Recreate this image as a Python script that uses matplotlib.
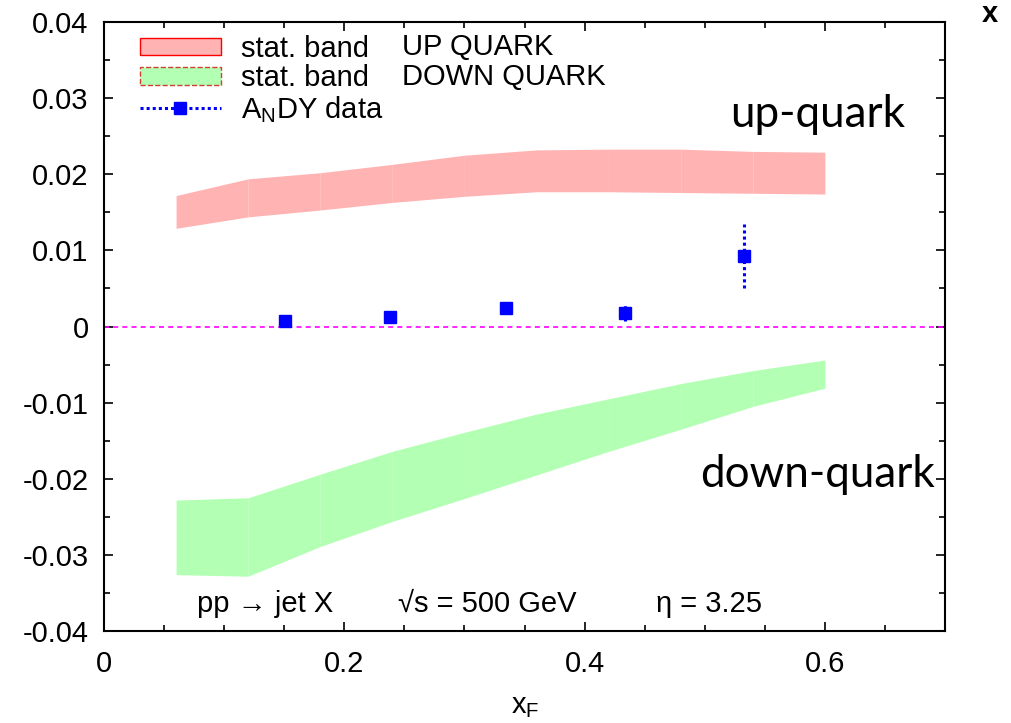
import matplotlib
matplotlib.use("Agg")
import matplotlib.pyplot as plt
from matplotlib.patches import Patch
from matplotlib.lines import Line2D
from matplotlib.ticker import MultipleLocator, FixedLocator, FuncFormatter

plt.rcParams['font.family'] = ['Liberation Sans', 'DejaVu Sans']
plt.rcParams['mathtext.default'] = 'regular'

# Model bands (x_F grid, lower/upper edge of the statistical band)
xf_grid = [0.06, 0.12, 0.18, 0.24, 0.30, 0.36, 0.42, 0.48, 0.54, 0.60]
up_low = [0.0129, 0.0144, 0.0153, 0.0163, 0.0171, 0.0177, 0.0177, 0.0176, 0.0175, 0.0174]
up_high = [0.0172, 0.0194, 0.0202, 0.0213, 0.0225, 0.0232, 0.0233, 0.0233, 0.0230, 0.0229]
down_low = [-0.0326, -0.0328, -0.0289, -0.0256, -0.0226, -0.0195, -0.0164, -0.0135, -0.0105, -0.0081]
down_high = [-0.0228, -0.0225, -0.0194, -0.0164, -0.0139, -0.0115, -0.0095, -0.0075, -0.0058, -0.0044]

# A_N DY measurements
data_x = [0.151, 0.238, 0.335, 0.434, 0.533]
data_y = [0.0007, 0.0012, 0.0024, 0.0018, 0.0092]
data_err = [0.0003, 0.0003, 0.0003, 0.0011, 0.0042]

x_ticks = [0, 0.2, 0.4, 0.6]
y_ticks = [0.04, 0.03, 0.02, 0.01, 0, -0.01, -0.02, -0.03, -0.04]

pink = '#ffb3b3'
green = '#b3ffb3'
FS = 21

fig = plt.figure(figsize=(10.12, 7.23), dpi=100)
ax = fig.add_axes([104 / 1012, 1 - 631 / 723, 841 / 1012, 609 / 723])

# bands drawn segment by segment
for i in range(len(xf_grid) - 1):
    seg = slice(i, i + 2)
    ax.fill_between(xf_grid[seg], up_low[seg], up_high[seg], color=pink, lw=0, zorder=1)
    ax.fill_between(xf_grid[seg], down_low[seg], down_high[seg], color=green, lw=0, zorder=1)

ax.axhline(0, color='#ff00ff', lw=1.2, ls=(0, (3, 2.5)), zorder=2)

eb = ax.errorbar(data_x, data_y, yerr=data_err, fmt='s', color='blue', ms=8.5,
                 elinewidth=2.2, capsize=0, zorder=3)
for coll in eb[2]:
    coll.set_linestyle((0, (1, 1)))

ax.set_xlim(0, 0.7)
ax.set_ylim(-0.04, 0.04)
ax.xaxis.set_major_locator(FixedLocator(x_ticks))
ax.xaxis.set_minor_locator(MultipleLocator(0.05))
ax.yaxis.set_major_locator(FixedLocator(y_ticks))
ax.yaxis.set_minor_locator(MultipleLocator(0.005))
ax.xaxis.set_major_formatter(FuncFormatter(lambda v, p: '0' if abs(v) < 1e-9 else f'{v:g}'))
ax.yaxis.set_major_formatter(FuncFormatter(lambda v, p: '0' if abs(v) < 1e-9 else f'{v:.2f}'))
ax.tick_params(which='both', direction='in', top=True, right=True, width=1.2, labelsize=FS)
ax.tick_params(which='major', length=6.5)
ax.tick_params(which='minor', length=4.3)
ax.tick_params(axis='x', pad=14)
ax.tick_params(axis='y', pad=11)
for s in ax.spines.values():
    s.set_linewidth(1.5)

handles = [
    Patch(facecolor=pink, edgecolor='red', lw=1),
    Patch(facecolor=green, edgecolor='#d04030', lw=1, ls='--'),
    Line2D([0], [0], color='blue', ls=(0, (1, 1)), lw=2.2, marker='s', ms=8.5),
]
labels = ['stat. band', 'stat. band', 'A$_N$DY data']
ax.legend(handles, labels, loc='upper left', bbox_to_anchor=(140 / 1012, 1 - 35 / 723),
          bbox_transform=fig.transFigure, frameon=False, fontsize=FS,
          handlelength=2.76, handleheight=0.55, handletextpad=0.69, labelspacing=0.05,
          borderpad=0, borderaxespad=0)

fig.text(402 / 1012, 1 - 47 / 723, 'UP QUARK', fontsize=FS, va='center')
fig.text(402 / 1012, 1 - 77 / 723, 'DOWN QUARK', fontsize=FS, va='center')

fig.text(730 / 1012, 1 - 127 / 723, 'up-quark', fontsize=31.7, family='Lato', va='baseline')
fig.text(700 / 1012, 1 - 487 / 723, 'down-quark', fontsize=31.7, family='Lato', va='baseline')

fig.text(197 / 1012, 1 - 604 / 723, 'pp \u2192 jet X', fontsize=FS, va='center',
         family=['Liberation Sans', 'DejaVu Sans'])
fig.text(398 / 1012, 1 - 604 / 723, '\u221as = 500 GeV', fontsize=FS, va='center',
         family=['Liberation Sans', 'DejaVu Sans'])
fig.text(656 / 1012, 1 - 604 / 723, '\u03b7 = 3.25', fontsize=FS, va='center',
         family=['Liberation Sans', 'DejaVu Sans'])

fig.text(525 / 1012, 1 - 706 / 723, 'x$_F$', fontsize=FS, ha='center', va='center')
fig.text(990 / 1012, 1 - 14 / 723, 'x', fontsize=FS, fontweight='bold', ha='center', va='center')

fig.savefig('out.png', dpi=100)
